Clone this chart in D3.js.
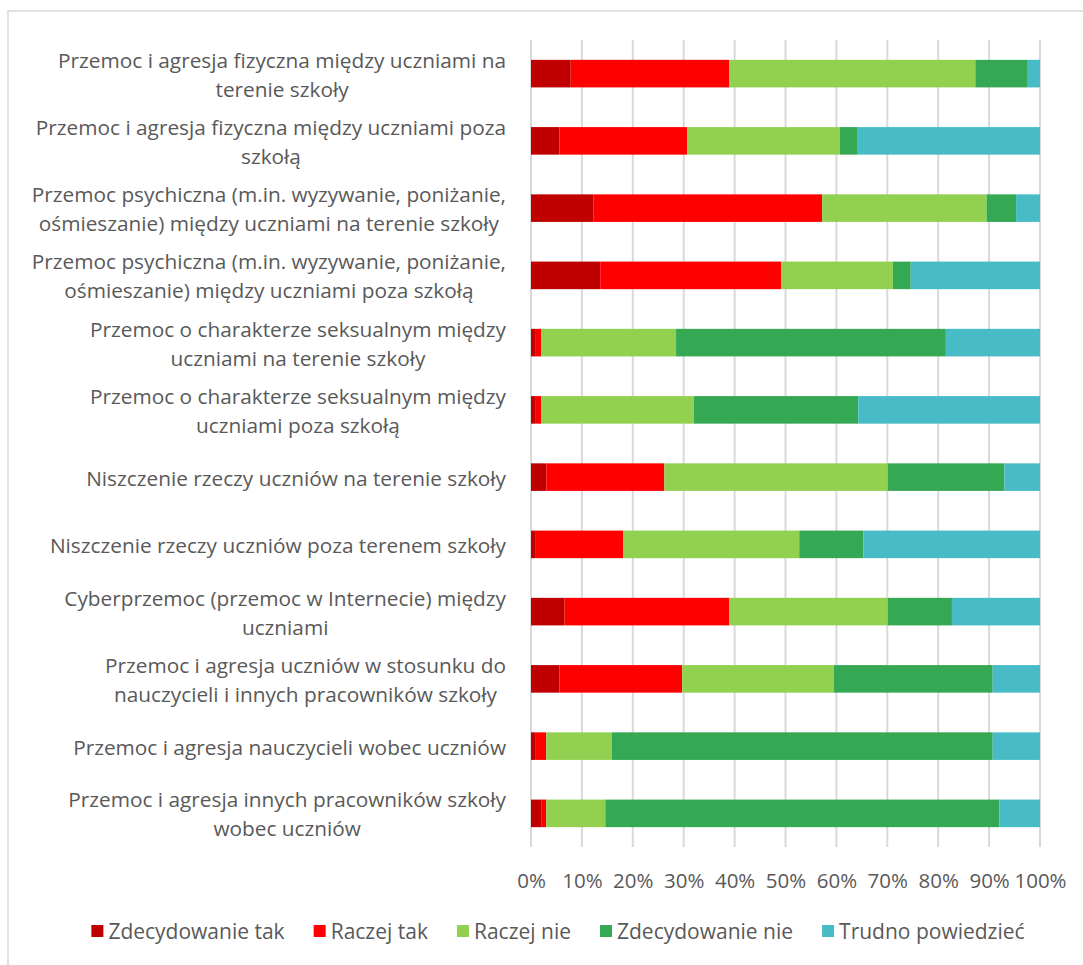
<!DOCTYPE html>
<html lang="pl">
<head>
  <meta charset="utf-8">
  <title>Przemoc w szkole</title>
  <script src="https://d3js.org/d3.v7.min.js"></script>
  <style>
    body { margin: 0; background: #fff; }
    text { font-family: "Open Sans", sans-serif; fill: #595959; }
  </style>
</head>
<body>
<div id="my_dataviz"></div>
<script>

// categories (lines split with "\n" like the wrapped excel labels)
var categories = [
  "Przemoc i agresja fizyczna między uczniami na\nterenie szkoły",
  "Przemoc i agresja fizyczna między uczniami poza\nszkołą",
  "Przemoc psychiczna (m.in. wyzywanie, poniżanie,\nośmieszanie) między uczniami na terenie szkoły",
  "Przemoc psychiczna (m.in. wyzywanie, poniżanie,\nośmieszanie) między uczniami poza szkołą",
  "Przemoc o charakterze seksualnym między\nuczniami na terenie szkoły",
  "Przemoc o charakterze seksualnym między\nuczniami poza szkołą",
  "Niszczenie rzeczy uczniów na terenie szkoły",
  "Niszczenie rzeczy uczniów poza terenem szkoły",
  "Cyberprzemoc (przemoc w Internecie) między\nuczniami",
  "Przemoc i agresja uczniów w stosunku do\nnauczycieli i innych pracowników szkoły",
  "Przemoc i agresja nauczycieli wobec uczniów",
  "Przemoc i agresja innych pracowników szkoły\nwobec uczniów"
];

var seriesNames = ["Zdecydowanie tak", "Raczej tak", "Raczej nie", "Zdecydowanie nie", "Trudno powiedzieć"];

// values in %
var zdecydowanieTak = [7.8, 5.6, 12.3, 13.6, 0.8, 0.8, 3.0, 0.8, 6.6, 5.6, 0.8, 2.0];
var raczejTak       = [31.1, 25.1, 44.9, 35.6, 1.2, 1.2, 23.2, 17.3, 32.3, 24.1, 2.2, 1.0];
var raczejNie       = [48.4, 30.0, 32.3, 21.9, 26.5, 30.0, 43.9, 34.6, 31.2, 29.8, 12.9, 11.6];
var zdecydowanieNie = [10.3, 3.5, 5.8, 3.5, 53.0, 32.3, 22.9, 12.6, 12.6, 31.2, 74.8, 77.4];
var trudnoPowiedziec = [2.4, 35.8, 4.7, 25.4, 18.5, 35.7, 7.0, 34.7, 17.3, 9.3, 9.3, 8.0];

var xTicks = [0, 10, 20, 30, 40, 50, 60, 70, 80, 90, 100];

var colors = ["#C00000", "#FF0000", "#92D050", "#35A853", "#47BCC6"];

var W = 1083, H = 965;
var margin = {top: 40, right: 43, bottom: 118, left: 531};

var svg = d3.select("#my_dataviz")
  .append("svg")
    .attr("width", W)
    .attr("height", H);

// chart frame (cut off at the right and bottom in the original)
svg.append("rect")
  .attr("x", 8).attr("y", 11)
  .attr("width", W + 20).attr("height", H + 20)
  .attr("fill", "none")
  .attr("stroke", "#D9D9D9")
  .attr("stroke-width", 1.5);

// build rows for the stack
var rows = categories.map(function(c, i) {
  var r = {cat: c};
  r[seriesNames[0]] = zdecydowanieTak[i];
  r[seriesNames[1]] = raczejTak[i];
  r[seriesNames[2]] = raczejNie[i];
  r[seriesNames[3]] = zdecydowanieNie[i];
  r[seriesNames[4]] = trudnoPowiedziec[i];
  return r;
});

var stacked = d3.stack().keys(seriesNames)(rows);

var x = d3.scaleLinear()
  .domain([0, 100])
  .range([margin.left, W - margin.right]);

var y = d3.scaleBand()
  .domain(categories)
  .range([margin.top, H - margin.bottom])
  .paddingInner(0.59)
  .paddingOuter(0.295);

var color = d3.scaleOrdinal().domain(seriesNames).range(colors);

// gridlines
svg.append("g")
  .selectAll("line")
  .data(xTicks)
  .join("line")
    .attr("x1", function(d) { return x(d); })
    .attr("x2", function(d) { return x(d); })
    .attr("y1", margin.top)
    .attr("y2", H - margin.bottom)
    .attr("stroke", "#D9D9D9")
    .attr("stroke-width", 2);

// bars
svg.append("g")
  .selectAll("g")
  .data(stacked)
  .join("g")
    .attr("fill", function(d) { return color(d.key); })
  .selectAll("rect")
  .data(function(d) { return d; })
  .join("rect")
    .attr("x", function(d) { return x(d[0]); })
    .attr("y", function(d) { return y(d.data.cat); })
    .attr("width", function(d) { return x(d[1]) - x(d[0]); })
    .attr("height", y.bandwidth());

// x axis labels
var xAxis = svg.append("g")
  .attr("transform", "translate(0," + (H - margin.bottom) + ")")
  .call(d3.axisBottom(x).tickValues(xTicks).tickSize(0).tickPadding(26)
    .tickFormat(function(d) { return d + "%"; }));
xAxis.select(".domain").remove();
xAxis.selectAll("text")
  .style("font-family", "'Open Sans', sans-serif")
  .style("font-size", "20.5px")
  .attr("fill", "#595959");

// category labels, wrapped lines centered on the widest one
var labelRight = 506, lineH = 29;
categories.forEach(function(c) {
  var lines = c.split("\n");
  var g = svg.append("g");
  var cy = y(c) + y.bandwidth() / 2 + 1;
  var t = g.selectAll("text")
    .data(lines)
    .join("text")
      .attr("text-anchor", "middle")
      .attr("dy", "0.36em")
      .style("font-size", "20.8px")
      .attr("y", function(d, i) { return cy + (i - (lines.length - 1) / 2) * lineH; })
      .text(function(d) { return d; });
  var maxW = d3.max(t.nodes(), function(n) { return n.getComputedTextLength(); });
  t.attr("x", labelRight - maxW / 2);
});

// legend
var legend = svg.append("g").attr("transform", "translate(0,931)");
var items = legend.selectAll("g")
  .data(seriesNames)
  .join("g");
items.append("rect")
  .attr("x", 0).attr("y", -6)
  .attr("width", 12).attr("height", 12)
  .attr("fill", function(d) { return color(d); });
items.append("text")
  .attr("x", 17)
  .attr("dy", "0.36em")
  .style("font-size", "21px")
  .text(function(d) { return d; });

var gap = 29, pos = 0, offs = [];
items.each(function() {
  offs.push(pos);
  pos += 17 + d3.select(this).select("text").node().getComputedTextLength() + gap;
});
var total = pos - gap;
var startX = 558 - total / 2;
items.attr("transform", function(d, i) { return "translate(" + (startX + offs[i]) + ",0)"; });

</script>
</body>
</html>
